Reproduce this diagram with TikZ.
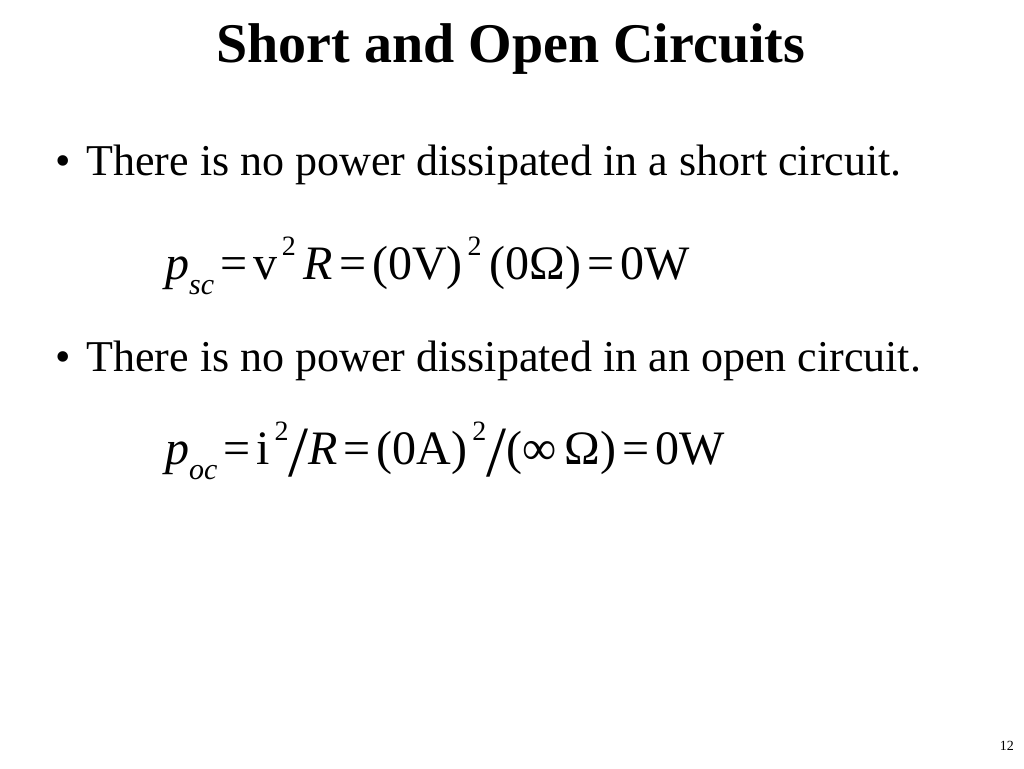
\documentclass[tikz,border=0pt]{standalone}
\usepackage{fontspec}
\setmainfont{Liberation Serif}
\newcommand{\mysup}[1]{\raisebox{0.5em}{\fontsize{28}{28}\selectfont\,#1}}
\newcommand{\mysub}[1]{\raisebox{-0.3em}{\fontsize{30}{30}\selectfont\itshape #1}}
\newcommand{\bigsl}{\raisebox{-0.25em}{\fontsize{72}{72}\selectfont /}}
\newcommand{\eq}{\hspace{6pt}=\hspace{6pt}}
\begin{document}
\begin{tikzpicture}[x=1pt,y=1pt]
\useasboundingbox (0,0) rectangle (1024,768);
\tikzset{txt/.style={anchor=base west,inner sep=0pt,font=\fontsize{44}{44}\selectfont},
eqn/.style={anchor=base west,inner sep=0pt,font=\fontsize{48}{48}\selectfont}}
\node[anchor=base,inner sep=0pt,font=\fontsize{56}{56}\selectfont\bfseries] (title) at (511,768-63) {Short and Open Circuits};
\node[txt] (b1) at (55,768-176) {•\hspace{16pt}There is no power dissipated in a short circuit.};
\node[eqn] (e1) at (165,768-280) {\textit{p}\mysub{sc}\eq v\mysup{2}\,\textit{R}\eq(0V)\mysup{2}\,(0Ω)\eq 0W};
\node[txt] (b2) at (55,768-372) {•\hspace{16pt}There is no power dissipated in an open circuit.};
\node[eqn] (e2) at (165,768-465) {\textit{p}\mysub{oc}\eq i\mysup{2}\bigsl\textit{R}\eq(0A)\mysup{2}\bigsl(∞\,Ω)\eq 0W};
\node[anchor=base east,inner sep=0pt,font=\fontsize{14}{14}\selectfont] (pg) at (1014,768-750) {12};
\end{tikzpicture}
\end{document}
